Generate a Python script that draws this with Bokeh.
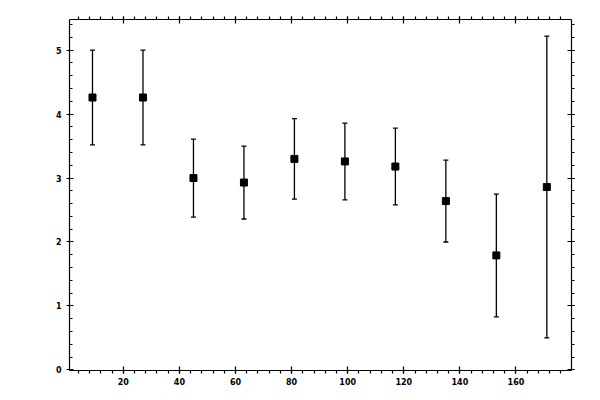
import numpy as np
from bokeh.plotting import figure
from bokeh.models import (ColumnDataSource, Range1d, LinearAxis, SingleIntervalTicker,
                          Whisker, TeeHead, CustomJSTickFormatter)
from bokeh.embed import file_html
from bokeh.resources import INLINE

x_vals = [9, 27, 45, 63, 81, 99, 117, 135, 153, 171]
y_vals = [4.26, 4.26, 3.00, 2.93, 3.30, 3.26, 3.18, 2.64, 1.79, 2.86]
errores = [0.74, 0.74, 0.61, 0.57, 0.63, 0.60, 0.60, 0.64, 0.96, 2.36]

superior = [y + e for y, e in zip(y_vals, errores)]
inferior = [y - e for y, e in zip(y_vals, errores)]
src = ColumnDataSource(data=dict(x=x_vals, y=y_vals, upper=superior, lower=inferior))

p = figure(width=600, height=400, output_backend="svg", toolbar_location=None,
           x_range=Range1d(0.8, 179.8), y_range=Range1d(-0.01, 5.48),
           x_axis_location=None, y_axis_location=None,
           min_border_left=69, min_border_right=29, min_border_top=19, min_border_bottom=30)
p.outline_line_color = None
p.xgrid.visible = False
p.ygrid.visible = False
p.background_fill_color = "white"


def eje(lado, intervalo, etiquetas):
    ax = LinearAxis(ticker=SingleIntervalTicker(interval=intervalo, num_minor_ticks=5))
    ax.axis_line_color = "black"
    ax.axis_line_width = 1.2
    ax.major_tick_line_color = "black"
    ax.minor_tick_line_color = "black"
    ax.major_tick_line_width = 1.2
    ax.minor_tick_line_width = 1.2
    ax.major_tick_in = 4
    ax.major_tick_out = 3
    ax.minor_tick_in = 0
    ax.minor_tick_out = 3
    ax.major_label_text_font = "DejaVu Sans"
    ax.major_label_text_font_size = "8px"
    ax.major_label_text_font_style = "bold"
    ax.major_label_text_color = "black"
    ax.major_label_standoff = 5
    if not etiquetas:
        ax.formatter = CustomJSTickFormatter(code="return ''")
    p.add_layout(ax, lado)
    return ax


abajo = eje("below", 20, True)
arriba = eje("above", 20, False)
izq = eje("left", 1, True)
der = eje("right", 1, False)
izq.minor_tick_in = 3
izq.minor_tick_out = 0
abajo.major_label_standoff = 4

whisk = Whisker(base="x", upper="upper", lower="lower", source=src, dimension="height",
                line_color="black", line_width=1.3,
                upper_head=TeeHead(size=5, line_color="black", line_width=1.3),
                lower_head=TeeHead(size=5, line_color="black", line_width=1.3))
p.add_layout(whisk)

p.scatter("x", "y", source=src, marker="square", size=7, fill_color="black", line_color="black")

open("out.html", "w").write(file_html(p, INLINE))
